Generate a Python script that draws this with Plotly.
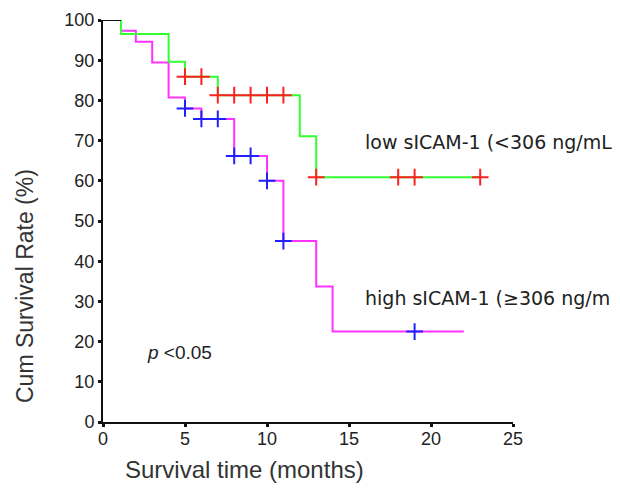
import plotly.graph_objects as go

# Kaplan-Meier step data
low_time = [0, 1.1, 4, 5, 7, 12, 13, 23]
low_surv = [100, 96.5, 89.6, 85.9, 81.3, 71.1, 60.9, 60.9]
low_cens_time = [5, 6, 7, 8, 9, 10, 11, 13, 18, 19, 23]
low_cens_surv = [85.9, 85.9, 81.3, 81.3, 81.3, 81.3, 81.3, 60.9, 60.9, 60.9, 60.9]

high_time = [0, 1.1, 2, 3, 4, 5, 6, 8, 10, 11, 13, 14, 22]
high_surv = [100, 97.3, 94.6, 89.4, 80.7, 78.0, 75.4, 66.2, 60.0, 45.0, 33.7, 22.5, 22.5]
high_cens_time = [5, 6, 7, 8, 9, 10, 11, 19]
high_cens_surv = [78.0, 75.4, 75.4, 66.2, 66.2, 60.0, 45.0, 22.5]

x_ticks = [0, 5, 10, 15, 20, 25]
y_ticks = [0, 10, 20, 30, 40, 50, 60, 70, 80, 90, 100]

# group labels as visible in the reference (cut at the right edge there)
low_label = "low sICAM-1 (<306 ng/mL"
high_label = "high sICAM-1 (≥306 ng/m"

FONT = "Liberation Sans"
TXT = "DejaVu Sans"

# plot area in page pixels (page body adds an 8px offset)
L, T, W, H = 95, 12, 410, 402

fig = go.Figure()
fig.add_trace(go.Scatter(x=high_time, y=high_surv, mode="lines", line_shape="hv",
                         line=dict(color="#ff33ff", width=2), cliponaxis=False))
fig.add_trace(go.Scatter(x=low_time, y=low_surv, mode="lines", line_shape="hv",
                         line=dict(color="#33ff33", width=2), cliponaxis=False))
# shared initial segment
fig.add_trace(go.Scatter(x=low_time[:2], y=[low_surv[0], low_surv[0]], mode="lines",
                         line=dict(color="#111111", width=2), cliponaxis=False))
fig.add_trace(go.Scatter(x=low_cens_time, y=low_cens_surv, mode="markers",
                         marker=dict(symbol="cross-thin", size=12, line=dict(color="#ff2020", width=2)),
                         cliponaxis=False))
fig.add_trace(go.Scatter(x=high_cens_time, y=high_cens_surv, mode="markers",
                         marker=dict(symbol="cross-thin", size=12, line=dict(color="#2020ff", width=2)),
                         cliponaxis=False))

fig.update_layout(
    width=620, height=491,
    margin=dict(l=L, r=620 - L - W, t=T, b=491 - T - H, autoexpand=False),
    plot_bgcolor="white", paper_bgcolor="white",
    showlegend=False,
    font=dict(family=FONT, color="#222222"),
    xaxis=dict(range=[0, 25], tickvals=x_ticks, ticks="outside", ticklen=3, tickwidth=3,
               tickcolor="#111", showline=True, linecolor="#111", linewidth=2,
               showgrid=False, zeroline=False, ticklabelstandoff=-4, automargin=False,
               tickfont=dict(size=18, family=FONT, color="#222")),
    yaxis=dict(range=[0, 100], tickvals=y_ticks, ticks="outside", ticklen=3, tickwidth=3,
               tickcolor="#111", showline=True, linecolor="#111", linewidth=2,
               showgrid=False, zeroline=False, automargin=False,
               tickfont=dict(size=18, family=FONT, color="#222")),
)

def px(xp):
    return (xp - 8 - L) / W

def py(yp):
    return (491 - (yp - 8) - (491 - T - H)) / H

fig.add_annotation(text="Survival time (months)", xref="paper", yref="paper",
                   x=px(244), y=py(470), xanchor="center", yanchor="middle",
                   showarrow=False, font=dict(size=24, family=FONT, color="#333"))
fig.add_annotation(text="Cum Survival Rate (%)", xref="paper", yref="paper",
                   x=px(25), y=py(286), xanchor="center", yanchor="middle",
                   textangle=-90, showarrow=False, font=dict(size=23, family=FONT, color="#333"))
fig.add_annotation(text=low_label, x=15.85, y=69.7, xanchor="left", yanchor="middle",
                   showarrow=False, font=dict(size=19, family=TXT, color="#222"))
fig.add_annotation(text=high_label, x=15.85, y=30.8, xanchor="left", yanchor="middle",
                   showarrow=False, font=dict(size=19, family=TXT, color="#222"))
fig.add_annotation(text="<i>p</i> <0.05", x=2.55, y=17.4, xanchor="left", yanchor="middle",
                   showarrow=False, font=dict(size=19, family=FONT, color="#222"))

fig.write_html("out.html")
